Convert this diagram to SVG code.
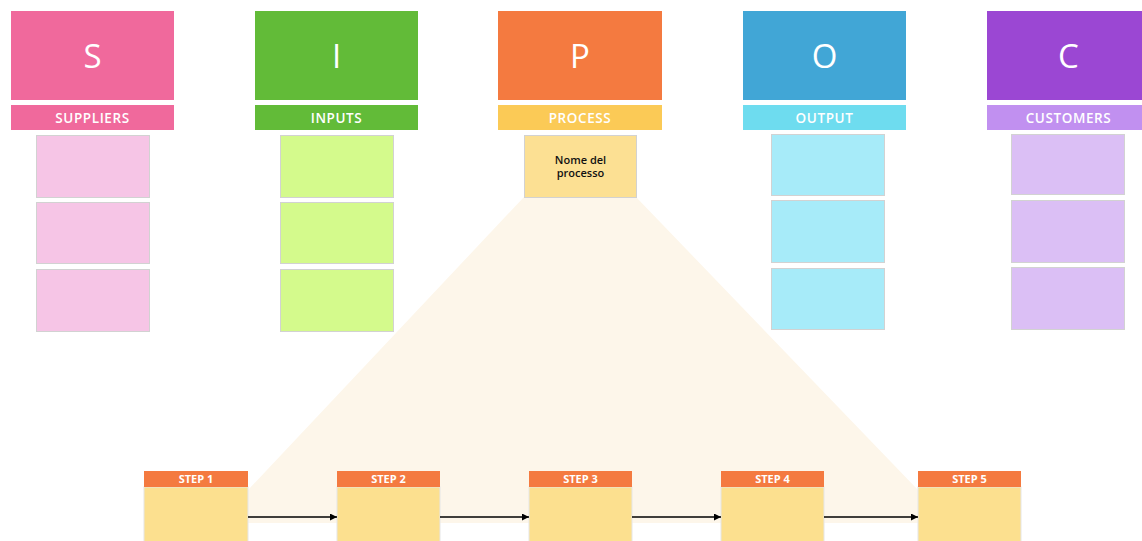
<svg xmlns="http://www.w3.org/2000/svg" width="1142" height="541" viewBox="0 0 1142 541">
  <defs>
    <marker id="arrow" viewBox="0 0 10 10" refX="10" refY="5" markerWidth="7" markerHeight="7" markerUnits="userSpaceOnUse" orient="auto">
      <path d="M0,0 L10,5 L0,10 z" fill="#000"/>
    </marker>
  </defs>
  <style>
    .letter { font-family: "Open Sans", "Liberation Sans", sans-serif; font-size: 33px; font-weight: 500; fill: #fff; text-anchor: middle; }
    .label { font-family: "Open Sans", "Liberation Sans", sans-serif; font-size: 13.5px; font-weight: 600; fill: #fff; text-anchor: middle; letter-spacing: 0.6px; }
    .step { font-family: "Open Sans", "Liberation Sans", sans-serif; font-size: 11px; font-weight: 700; fill: #fff; text-anchor: middle; }
    .name { font-family: "Open Sans", "Liberation Sans", sans-serif; font-size: 11px; font-weight: 600; fill: #111; text-anchor: middle; }
    .card { stroke: #d2d2d2; stroke-width: 1; }
    .conn { stroke: #000; stroke-width: 1.5; fill: none; }
  </style>

  <rect width="1142" height="541" fill="#fff"/>

  <!-- zoom-out area from the process box to the steps -->
  <polygon points="524,197 636,197 918,490 918,523 248,523 248,490" fill="#fdf6ea"/>

  <!-- Suppliers column -->
  <g id="suppliers">
    <rect x="11" y="11" width="163" height="89" fill="#f0699c"/>
    <text class="letter" x="92.5" y="68">S</text>
    <rect x="11" y="105" width="163" height="25" fill="#f0699c"/>
    <text class="label" x="92.5" y="122.5">SUPPLIERS</text>
    <rect class="card" x="36.5" y="135.5" width="113" height="62" fill="#f6c5e6"/>
    <rect class="card" x="36.5" y="202.5" width="113" height="61" fill="#f6c5e6"/>
    <rect class="card" x="36.5" y="269.5" width="113" height="62" fill="#f6c5e6"/>
  </g>

  <!-- Inputs column -->
  <g id="inputs">
    <rect x="255" y="11" width="163" height="89" fill="#62bb38"/>
    <text class="letter" x="336.5" y="68">I</text>
    <rect x="255" y="105" width="163" height="25" fill="#62bb38"/>
    <text class="label" x="336.5" y="122.5">INPUTS</text>
    <rect class="card" x="280.5" y="135.5" width="113" height="62" fill="#d4fa8c"/>
    <rect class="card" x="280.5" y="202.5" width="113" height="61" fill="#d4fa8c"/>
    <rect class="card" x="280.5" y="269.5" width="113" height="62" fill="#d4fa8c"/>
  </g>

  <!-- Process column -->
  <g id="process">
    <rect x="498" y="11" width="164" height="89" fill="#f47a40"/>
    <text class="letter" x="580" y="68">P</text>
    <rect x="498" y="105" width="164" height="25" fill="#fbca56"/>
    <text class="label" x="580" y="122.5">PROCESS</text>
    <rect class="card" x="524.5" y="135.5" width="112" height="62" fill="#fce093"/>
    <text class="name" x="580.5" y="164">Nome del</text>
    <text class="name" x="580.5" y="177">processo</text>
  </g>

  <!-- Output column -->
  <g id="output">
    <rect x="743" y="11" width="163" height="89" fill="#41a6d6"/>
    <text class="letter" x="824.5" y="68">O</text>
    <rect x="743" y="105" width="163" height="25" fill="#6edcef"/>
    <text class="label" x="824.5" y="122.5">OUTPUT</text>
    <rect class="card" x="771.5" y="134.5" width="113" height="61" fill="#a7ebf9"/>
    <rect class="card" x="771.5" y="200.5" width="113" height="62" fill="#a7ebf9"/>
    <rect class="card" x="771.5" y="268.5" width="113" height="61" fill="#a7ebf9"/>
  </g>

  <!-- Customers column -->
  <g id="customers">
    <rect x="987" y="11" width="163" height="89" fill="#9b47d3"/>
    <text class="letter" x="1068.5" y="68">C</text>
    <rect x="987" y="105" width="163" height="25" fill="#c190f0"/>
    <text class="label" x="1068.5" y="122.5">CUSTOMERS</text>
    <rect class="card" x="1011.5" y="134.5" width="113" height="60" fill="#dbbff5"/>
    <rect class="card" x="1011.5" y="200.5" width="113" height="62" fill="#dbbff5"/>
    <rect class="card" x="1011.5" y="267.5" width="113" height="62" fill="#dbbff5"/>
  </g>

  <!-- Process steps -->
  <g id="step1">
    <rect x="144" y="487" width="104" height="60" fill="#fce08f" stroke="#e6e6e6"/>
    <rect x="144" y="471" width="104" height="16" fill="#f47a40"/>
    <text class="step" x="196" y="483">STEP 1</text>
  </g>
  <g id="step2">
    <rect x="337" y="487" width="103" height="60" fill="#fce08f" stroke="#e6e6e6"/>
    <rect x="337" y="471" width="103" height="16" fill="#f47a40"/>
    <text class="step" x="388.5" y="483">STEP 2</text>
  </g>
  <g id="step3">
    <rect x="529" y="487" width="103" height="60" fill="#fce08f" stroke="#e6e6e6"/>
    <rect x="529" y="471" width="103" height="16" fill="#f47a40"/>
    <text class="step" x="580.5" y="483">STEP 3</text>
  </g>
  <g id="step4">
    <rect x="721" y="487" width="103" height="60" fill="#fce08f" stroke="#e6e6e6"/>
    <rect x="721" y="471" width="103" height="16" fill="#f47a40"/>
    <text class="step" x="772.5" y="483">STEP 4</text>
  </g>
  <g id="step5">
    <rect x="918" y="487" width="103" height="60" fill="#fce08f" stroke="#e6e6e6"/>
    <rect x="918" y="471" width="103" height="16" fill="#f47a40"/>
    <text class="step" x="969.5" y="483">STEP 5</text>
  </g>

  <!-- Connectors between steps -->
  <g id="connectors">
    <line class="conn" x1="248" y1="517" x2="337" y2="517" marker-end="url(#arrow)"/>
    <line class="conn" x1="440" y1="517" x2="529" y2="517" marker-end="url(#arrow)"/>
    <line class="conn" x1="632" y1="517" x2="721" y2="517" marker-end="url(#arrow)"/>
    <line class="conn" x1="824" y1="517" x2="918" y2="517" marker-end="url(#arrow)"/>
  </g>
</svg>
